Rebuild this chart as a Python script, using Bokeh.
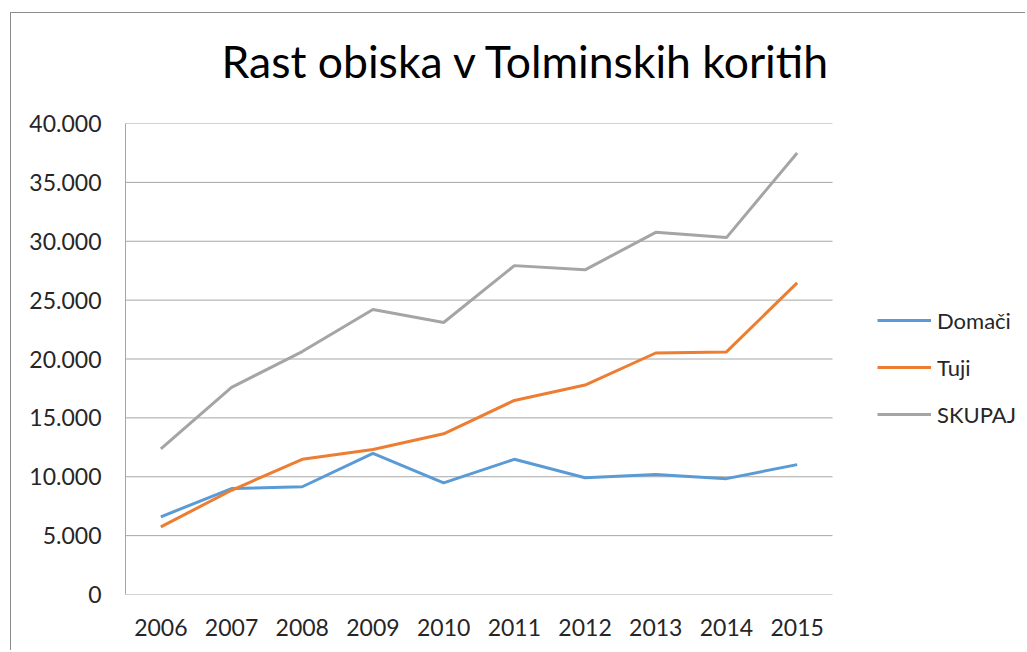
from bokeh.plotting import figure
from bokeh.models import (FixedTicker, Range1d, Legend, LegendItem,
                          CustomJSTickFormatter, Title, ColumnDataSource)
from bokeh.embed import file_html
from bokeh.resources import INLINE

years = ["2006", "2007", "2008", "2009", "2010", "2011", "2012", "2013", "2014", "2015"]
domaci = [6600, 9000, 9150, 11980, 9480, 11480, 9920, 10190, 9840, 11030]
tuji = [5750, 8850, 11480, 12310, 13650, 16480, 17790, 20510, 20600, 26470]
skupaj = [12370, 17590, 20630, 24200, 23100, 27930, 27570, 30760, 30310, 37500]
y_ticks = [0, 5000, 10000, 15000, 20000, 25000, 30000, 35000, 40000]

FONT = "Lato"
TXT = "#262626"
GRID = "#a6a6a6"

n = len(years)
xs = [i + 0.5 for i in range(n)]
# frame is wider than the category area so the legend can sit inside it
x_end = n * 901 / 707

p = figure(width=1015, height=638, x_range=Range1d(0, x_end),
           y_range=Range1d(0, 40000), output_backend="svg", toolbar_location=None,
           min_border_left=114, min_border_top=110, min_border_right=0, min_border_bottom=57)
p.styles = {"border-left": "1px solid #8c8c8c", "border-top": "1px solid #8c8c8c",
            "margin-left": "10px", "margin-top": "12px"}

# main title (outermost), plus a blank spacer title between it and the frame
p.title.text = "Rast obiska v Tolminskih koritih"
p.title.align = "left"
p.title.offset = 96
p.title.text_font = FONT
p.title.text_font_size = "44.5px"
p.title.text_font_style = "normal"
p.title.text_color = "#000000"
p.title.standoff = 4
spacer = Title(text=" ", text_font_size="2px", standoff=31)
p.add_layout(spacer, "above")

p.outline_line_color = None
p.xgrid.grid_line_color = None
p.ygrid.grid_line_color = None

# horizontal gridlines limited to the category area
p.segment(x0=[0] * len(y_ticks), x1=[n] * len(y_ticks), y0=y_ticks, y1=y_ticks,
          line_color=GRID, line_width=1)

p.yaxis.ticker = FixedTicker(ticks=y_ticks)
p.yaxis.formatter = CustomJSTickFormatter(
    code="return tick.toFixed(0).replace(/\\B(?=(\\d{3})+(?!\\d))/g, '.');")
p.xaxis.ticker = FixedTicker(ticks=xs)
p.xaxis.formatter = CustomJSTickFormatter(args=dict(labels=years),
                                          code="return labels[Math.floor(tick)];")
p.xaxis.axis_line_color = None
p.yaxis.axis_line_color = GRID
for ax in (p.xaxis, p.yaxis):
    ax.major_tick_line_color = None
    ax.minor_tick_line_color = None
    ax.major_tick_out = 0
    ax.major_tick_in = 0
    ax.minor_tick_out = 0
    ax.minor_tick_in = 0
    ax.major_label_text_font = FONT
    ax.major_label_text_font_size = "23px"
    ax.major_label_text_color = TXT
p.yaxis.major_label_standoff = 24
p.xaxis.major_label_standoff = 24

src = ColumnDataSource(dict(x=xs, d=domaci, t=tuji, s=skupaj))
r1 = p.line("x", "d", source=src, line_color="#5B9BD5", line_width=3)
r2 = p.line("x", "t", source=src, line_color="#ED7D31", line_width=3)
r3 = p.line("x", "s", source=src, line_color="#A5A5A5", line_width=3)

legend = Legend(items=[LegendItem(label="Domači", renderers=[r1]),
                       LegendItem(label="Tuji", renderers=[r2]),
                       LegendItem(label="SKUPAJ", renderers=[r3])],
                location=(752, 166), padding=0, margin=0, spacing=19,
                glyph_width=54, glyph_height=28, label_height=28, label_standoff=6,
                border_line_color=None, background_fill_alpha=0,
                label_text_font=FONT, label_text_font_size="22px", label_text_color=TXT)
p.add_layout(legend, "center")

open("out.html", "w").write(file_html(p, INLINE))
